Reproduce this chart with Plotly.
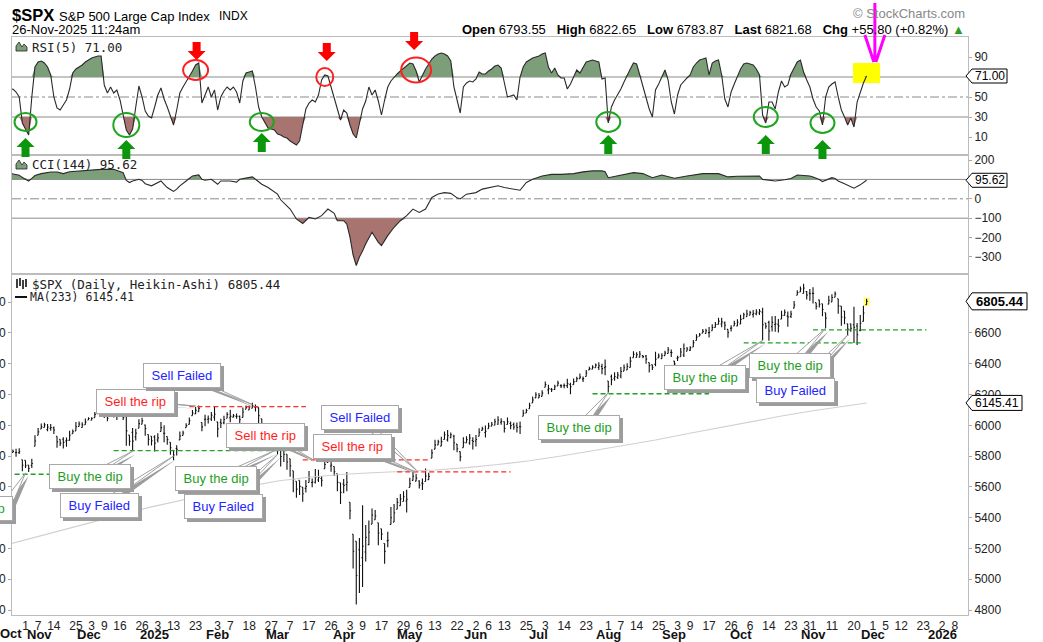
import pandas as pd
import plotly.graph_objects as go

SANS = "Liberation Sans, Arial, sans-serif"
MONO = "DejaVu Sans Mono, monospace"

# ---------------------------------------------------------------- calendar
HOLIDAYS = ["2024-11-28", "2024-12-25", "2025-01-01", "2025-01-09", "2025-01-20",
            "2025-02-17", "2025-04-18", "2025-05-26", "2025-06-19", "2025-07-04",
            "2025-09-01", "2025-11-27", "2025-12-25", "2026-01-01"]
CAL = pd.bdate_range("2024-10-01", "2026-02-27", freq="C", holidays=HOLIDAYS)
CAL_STR = [d.strftime("%Y-%m-%d") for d in CAL]
ORIGIN = CAL_STR.index("2024-11-01")


def xi(date_str):
    """trading-day index of a date (first session on/after it)"""
    return int(CAL.searchsorted(pd.Timestamp(date_str))) - ORIGIN


BAR_FIRST, BAR_LAST = "2024-10-24", "2025-11-26"
MONTHS = ["2024-10", "2024-11", "2024-12", "2025-01", "2025-02", "2025-03", "2025-04",
          "2025-05", "2025-06", "2025-07", "2025-08", "2025-09", "2025-10", "2025-11"]

# ---------------------------------------------------------------- data (per month)
ha_open = [
    [5800, 5804, 5823, 5822, 5822, 5776],
    [5772, 5741, 5740, 5864, 5935, 5976, 5986, 5972, 5980, 5983, 5929, 5909, 5909, 5899, 5902, 5945, 5964, 5992, 5986, 6004],
    [6034, 6033, 6050, 6075, 6079, 6078, 6066, 6060, 6067, 6066, 6062, 6058, 6058, 5936, 5954, 5925, 5981, 6007, 6002, 5940, 5929],
    [5925, 5904, 5960, 5948, 5927, 5890, 5837, 5849, 5905, 5934, 5985, 6006, 6063, 6074, 6088, 6018, 6039, 6039, 6041, 6053],
    [6022, 6020, 6016, 6046, 6049, 6053, 6058, 6058, 6051, 6104, 6099, 6111, 6118, 6115, 6043, 5993, 6005, 5986, 5955],
    [5929, 5866, 5857, 5812, 5783, 5705, 5636, 5642, 5598, 5590, 5628, 5628, 5630, 5645, 5654, 5718, 5758, 5736, 5732, 5685, 5627],
    [5619, 5615, 5500, 5292, 5247, 5191, 5140, 5177, 5225, 5358, 5386, 5367, 5328, 5232, 5249, 5356, 5371, 5455, 5478, 5505, 5508],
    [5597, 5642, 5637, 5638, 5624, 5635, 5647, 5787, 5845, 5872, 5865, 5908, 5905, 5919, 5929, 5878, 5829, 5855, 5886, 5885, 5901],
    [5898, 5929, 5967, 5953, 5978, 5994, 6000, 6007, 6020, 6023, 6005, 6012, 6005, 5997, 5991, 6059, 6080, 6108, 6146, 6178],
    [6177, 6188, 6247, 6230, 6234, 6233, 6256, 6258, 6257, 6258, 6265, 6264, 6285, 6303, 6300, 6317, 6360, 6364, 6375, 6376, 6382, 6375],
    [6288, 6315, 6306, 6312, 6320, 6352, 6359, 6376, 6440, 6441, 6443, 6453, 6450, 6408, 6394, 6396, 6438, 6433, 6453, 6466, 6474],
    [6417, 6436, 6445, 6457, 6481, 6487, 6509, 6551, 6579, 6599, 6596, 6602, 6614, 6636, 6656, 6658, 6665, 6623, 6630, 6645, 6646],
    [6658, 6693, 6705, 6715, 6720, 6724, 6730, 6735, 6665, 6669, 6641, 6655, 6657, 6690, 6714, 6709, 6707, 6761, 6845, 6866, 6856, 6869, 6858],
    [6857, 6797, 6815, 6790, 6731, 6787, 6802, 6832, 6822, 6774, 6743, 6660, 6660, 6653, 6645, 6617, 6675, 6784],
]
ha_high = [
    [5817, 5862, 5843, 5847, 5851, 5776],
    [5772, 5741, 5783, 5936, 5983, 6012, 6017, 6009, 6008, 5993, 5929, 5909, 5923, 5920, 5965, 5973, 6021, 6025, 6020, 6044],
    [6053, 6052, 6087, 6099, 6099, 6088, 6066, 6092, 6080, 6078, 6085, 6058, 6070, 5936, 5982, 5978, 6040, 6049, 6006, 5940, 5929],
    [5935, 5949, 6021, 6000, 5927, 5890, 5837, 5871, 5960, 5965, 6013, 6051, 6100, 6119, 6128, 6018, 6069, 6063, 6086, 6120],
    [6022, 6042, 6062, 6084, 6101, 6074, 6076, 6063, 6116, 6128, 6129, 6147, 6135, 6115, 6043, 5993, 6010, 5994, 5959],
    [5987, 5866, 5860, 5812, 5783, 5705, 5636, 5642, 5598, 5645, 5703, 5655, 5716, 5711, 5670, 5775, 5786, 5784, 5732, 5685, 5627],
    [5651, 5696, 5500, 5292, 5247, 5268, 5481, 5353, 5381, 5460, 5450, 5367, 5328, 5232, 5309, 5469, 5489, 5528, 5554, 5571, 5581],
    [5659, 5700, 5684, 5643, 5654, 5720, 5691, 5845, 5906, 5906, 5925, 5959, 5969, 5954, 5939, 5878, 5829, 5922, 5929, 5944, 5922],
    [5937, 5981, 5990, 5999, 6016, 6021, 6043, 6059, 6045, 6026, 6050, 6024, 6018, 6018, 6025, 6101, 6108, 6146, 6187, 6215],
    [6210, 6227, 6285, 6263, 6242, 6264, 6290, 6266, 6272, 6303, 6277, 6304, 6316, 6336, 6317, 6360, 6381, 6390, 6401, 6410, 6400, 6428],
    [6288, 6330, 6344, 6346, 6379, 6395, 6403, 6446, 6481, 6474, 6482, 6455, 6456, 6408, 6394, 6478, 6466, 6468, 6485, 6508, 6492],
    [6417, 6452, 6502, 6532, 6508, 6513, 6555, 6592, 6600, 6626, 6627, 6638, 6656, 6671, 6698, 6699, 6675, 6623, 6650, 6679, 6689],
    [6718, 6731, 6750, 6744, 6749, 6754, 6755, 6764, 6665, 6680, 6709, 6710, 6690, 6745, 6752, 6740, 6745, 6807, 6877, 6901, 6920, 6872, 6885],
    [6897, 6797, 6816, 6790, 6731, 6841, 6851, 6869, 6822, 6774, 6743, 6660, 6660, 6771, 6665, 6716, 6777, 6823],
]
ha_low = [
    [5784, 5799, 5823, 5795, 5813, 5702],
    [5723, 5696, 5722, 5864, 5935, 5976, 5986, 5961, 5965, 5943, 5854, 5865, 5850, 5860, 5902, 5945, 5964, 5992, 5984, 6004],
    [6034, 6033, 6050, 6075, 6079, 6048, 6027, 6060, 6050, 6035, 6059, 6035, 5867, 5867, 5832, 5902, 5981, 6007, 5932, 5869, 5868],
    [5829, 5888, 5960, 5890, 5874, 5809, 5773, 5803, 5905, 5934, 5985, 6006, 6063, 6074, 6088, 5962, 5994, 6012, 6028, 6030],
    [5923, 5983, 6007, 6046, 6020, 6050, 6042, 6003, 6051, 6104, 6099, 6111, 6090, 6008, 5977, 5909, 5932, 5858, 5837],
    [5810, 5732, 5762, 5711, 5666, 5565, 5529, 5547, 5504, 5563, 5628, 5597, 5622, 5632, 5603, 5718, 5758, 5699, 5670, 5572, 5489],
    [5558, 5571, 5390, 5069, 4835, 4910, 4950, 5115, 5220, 5358, 5386, 5220, 5255, 5101, 5207, 5356, 5371, 5455, 5478, 5505, 5433],
    [5597, 5642, 5637, 5590, 5579, 5635, 5646, 5787, 5845, 5872, 5865, 5908, 5895, 5916, 5838, 5825, 5767, 5855, 5886, 5874, 5843],
    [5862, 5929, 5967, 5921, 5978, 5994, 6000, 6003, 6003, 5953, 6005, 5974, 5971, 5953, 5943, 6059, 6080, 6108, 6146, 6178],
    [6177, 6188, 6247, 6201, 6217, 6229, 6256, 6243, 6241, 6243, 6201, 6264, 6285, 6303, 6281, 6317, 6360, 6364, 6375, 6360, 6331, 6325],
    [6212, 6261, 6289, 6300, 6305, 6352, 6359, 6376, 6440, 6441, 6441, 6436, 6400, 6343, 6360, 6384, 6438, 6433, 6453, 6466, 6443],
    [6360, 6417, 6445, 6443, 6481, 6482, 6509, 6551, 6579, 6599, 6596, 6570, 6614, 6636, 6656, 6637, 6619, 6569, 6610, 6645, 6644],
    [6657, 6693, 6705, 6715, 6700, 6715, 6717, 6551, 6627, 6550, 6610, 6608, 6603, 6690, 6714, 6640, 6697, 6761, 6845, 6866, 6856, 6818, 6809],
    [6791, 6752, 6765, 6708, 6631, 6787, 6802, 6832, 6725, 6646, 6656, 6580, 6607, 6534, 6521, 6611, 6675, 6784],
]
ha_close = [
    [5807, 5824, 5830, 5823, 5828, 5740],
    [5737, 5719, 5752, 5898, 5957, 5990, 6003, 5989, 5986, 5969, 5892, 5884, 5889, 5903, 5935, 5958, 5991, 6008, 6004, 6021],
    [6044, 6044, 6071, 6085, 6087, 6068, 6046, 6074, 6064, 6058, 6070, 6049, 5964, 5896, 5897, 5949, 6011, 6029, 5979, 5909, 5900],
    [5884, 5918, 5985, 5948, 5907, 5854, 5807, 5844, 5930, 5950, 5998, 6030, 6080, 6097, 6110, 5990, 6039, 6043, 6065, 6072],
    [5977, 6013, 6038, 6071, 6058, 6062, 6059, 6036, 6086, 6116, 6120, 6130, 6119, 6063, 6008, 5960, 5967, 5924, 5902],
    [5904, 5797, 5812, 5762, 5736, 5648, 5585, 5603, 5555, 5603, 5659, 5631, 5661, 5663, 5643, 5745, 5774, 5742, 5698, 5629, 5564],
    [5610, 5630, 5445, 5182, 5024, 5089, 5214, 5272, 5305, 5417, 5411, 5300, 5293, 5181, 5253, 5399, 5432, 5499, 5522, 5536, 5520],
    [5621, 5669, 5657, 5611, 5620, 5671, 5668, 5821, 5873, 5892, 5894, 5939, 5933, 5939, 5887, 5847, 5795, 5889, 5907, 5917, 5895],
    [5908, 5955, 5977, 5961, 5995, 6007, 6023, 6034, 6026, 5980, 6023, 5998, 5989, 5986, 5991, 6079, 6096, 6127, 6164, 6198],
    [6193, 6209, 6265, 6238, 6231, 6250, 6274, 6256, 6259, 6271, 6250, 6282, 6303, 6313, 6303, 6340, 6368, 6378, 6391, 6387, 6368, 6380],
    [6252, 6296, 6317, 6327, 6350, 6374, 6382, 6417, 6461, 6459, 6463, 6446, 6430, 6389, 6377, 6429, 6450, 6452, 6469, 6491, 6472],
    [6399, 6440, 6476, 6497, 6496, 6503, 6537, 6573, 6588, 6610, 6614, 6605, 6635, 6655, 6677, 6672, 6650, 6601, 6632, 6661, 6670],
    [6688, 6718, 6723, 6732, 6727, 6736, 6740, 6653, 6644, 6613, 6669, 6659, 6646, 6715, 6734, 6704, 6722, 6782, 6862, 6886, 6891, 6846, 6855],
    [6856, 6773, 6786, 6752, 6696, 6812, 6830, 6854, 6776, 6704, 6699, 6626, 6631, 6636, 6588, 6663, 6730, 6805.44],
]
rsi5 = [
    [56, 57, 58, 55, 50, 24],
    [18, 12, 50, 80, 85, 86, 84, 80, 72, 50, 39, 37, 42, 47, 58, 74, 78, 80, 82, 85],
    [87, 89, 90, 91, 91, 62, 54, 60, 54, 57, 47, 32, 17, 12, 18, 40, 61, 50, 36, 31, 29],
    [40, 52, 59, 48, 40, 30, 22, 37, 54, 60, 65, 70, 76, 82, 84, 44, 52, 60, 50, 57],
    [37, 50, 56, 60, 57, 60, 55, 44, 66, 74, 75, 76, 60, 40, 30, 24, 19, 18, 17],
    [13, 12, 10, 9, 6, 4, 2, 6, 22, 38, 44, 47, 45, 52, 67, 72, 71, 60, 48, 36, 27],
    [37, 34, 22, 13, 9, 25, 38, 46, 60, 52, 57, 46, 32, 47, 60, 66, 70, 73, 76, 79, 82],
    [84, 83, 76, 65, 72, 78, 83, 88, 91, 93, 94, 93, 91, 86, 60, 46, 34, 60, 64, 66, 65],
    [68, 75, 73, 73, 76, 78, 81, 82, 79, 64, 50, 51, 52, 47, 70, 80, 85, 87, 89, 90],
    [91, 93, 94, 80, 74, 79, 72, 69, 69, 58, 63, 70, 77, 74, 80, 85, 86, 87, 86, 85, 68, 69],
    [24, 40, 47, 52, 58, 65, 72, 78, 84, 83, 72, 60, 48, 38, 30, 57, 63, 70, 77, 67, 45],
    [33, 52, 62, 66, 69, 72, 80, 84, 87, 88, 89, 72, 84, 86, 87, 72, 48, 40, 55, 63, 70],
    [78, 83, 84, 83, 82, 78, 72, 32, 24, 45, 45, 38, 55, 66, 60, 62, 73, 79, 85, 87, 75, 67, 60],
    [48, 40, 36, 22, 50, 60, 63, 65, 50, 37, 30, 22, 29, 20, 45, 55, 64, 71.00],
]

cci_dates = ["2024-10-24", "2024-10-28", "2024-10-30", "2024-10-31", "2024-11-04", "2024-11-05", "2024-11-06",
             "2024-11-08", "2024-11-13", "2024-11-15", "2024-11-19", "2024-11-21", "2024-11-27", "2024-12-03",
             "2024-12-06", "2024-12-12", "2024-12-16", "2024-12-17", "2024-12-18", "2024-12-19", "2024-12-20",
             "2024-12-24", "2024-12-26", "2024-12-27", "2024-12-31", "2025-01-02", "2025-01-06", "2025-01-07",
             "2025-01-08", "2025-01-10", "2025-01-13", "2025-01-14", "2025-01-15", "2025-01-17", "2025-01-22",
             "2025-01-24", "2025-01-27", "2025-01-28", "2025-01-30", "2025-02-03", "2025-02-04", "2025-02-07",
             "2025-02-11", "2025-02-12", "2025-02-14", "2025-02-19", "2025-02-20", "2025-02-24", "2025-02-26",
             "2025-03-03", "2025-03-04", "2025-03-07", "2025-03-11", "2025-03-13", "2025-03-17", "2025-03-19",
             "2025-03-21", "2025-03-25", "2025-03-27", "2025-03-28", "2025-04-01", "2025-04-02", "2025-04-03",
             "2025-04-04", "2025-04-07", "2025-04-08", "2025-04-09", "2025-04-10", "2025-04-14", "2025-04-16",
             "2025-04-17", "2025-04-22", "2025-04-24", "2025-04-28", "2025-04-30", "2025-05-02", "2025-05-06",
             "2025-05-08", "2025-05-12", "2025-05-14", "2025-05-16", "2025-05-20", "2025-05-22", "2025-05-23",
             "2025-05-28", "2025-06-02", "2025-06-04", "2025-06-06", "2025-06-11", "2025-06-13", "2025-06-18",
             "2025-06-23", "2025-06-25", "2025-06-27", "2025-07-02", "2025-07-08", "2025-07-11", "2025-07-17",
             "2025-07-22", "2025-07-25", "2025-07-30", "2025-07-31", "2025-08-01", "2025-08-06", "2025-08-08",
             "2025-08-13", "2025-08-18", "2025-08-21", "2025-08-26", "2025-09-02", "2025-09-08", "2025-09-15",
             "2025-09-22", "2025-09-25", "2025-09-30", "2025-10-03", "2025-10-09", "2025-10-10", "2025-10-14",
             "2025-10-16", "2025-10-21", "2025-10-23", "2025-10-27", "2025-10-29", "2025-10-31", "2025-11-03",
             "2025-11-05", "2025-11-06", "2025-11-07", "2025-11-11", "2025-11-12", "2025-11-13", "2025-11-17",
             "2025-11-19", "2025-11-20", "2025-11-24", "2025-11-25", "2025-11-26"]
cci_vals = [135, 130, 122, 110, 92, 105, 120,
            130, 138, 138, 130, 140, 144, 150,
            152, 152, 142, 135, 95, 84, 92,
            101, 95, 78, 67, 75, 92, 75,
            58, 48, 38, 50, 67, 92, 118,
            123, 101, 96, 101, 75, 92, 92,
            86, 101, 108, 113, 101, 75, 58,
            24, -5, -53, -104, -127, -96, -104,
            -87, -53, -75, -113, -113, -130, -198,
            -290, -344, -300, -270, -232, -173, -225,
            -241, -190, -147, -113, -87, -53, -70,
            -53, 7, 25, 32, 28, 5, -1,
            24, 32, 50, 58, 67, 58, 50,
            44, 84, 101, 118, 126, 126, 130,
            139, 144, 144, 140, 109, 118, 123,
            135, 130, 109, 123, 106, 118, 130,
            130, 113, 116, 118, 118, 100, 95,
            92, 98, 105, 123, 121, 118, 112,
            100, 89, 95, 109, 105, 92, 78,
            65, 55, 72, 85, 95.62]

ma_dates = ["2024-10-24", "2024-10-28", "2024-11-15", "2024-12-02", "2024-12-16", "2024-12-31", "2025-01-16",
            "2025-01-31", "2025-02-14", "2025-03-03", "2025-03-17", "2025-03-31", "2025-04-14", "2025-04-29",
            "2025-05-13", "2025-05-28", "2025-06-11", "2025-06-26", "2025-07-11", "2025-07-25", "2025-08-08",
            "2025-08-22", "2025-09-08", "2025-09-22", "2025-10-06", "2025-10-20", "2025-11-03", "2025-11-17",
            "2025-11-26"]
ma233 = [5224, 5235, 5310, 5365, 5418, 5470, 5515,
         5560, 5600, 5638, 5662, 5680, 5692, 5700,
         5710, 5725, 5745, 5770, 5800, 5835, 5870,
         5905, 5945, 5985, 6025, 6060, 6095, 6125,
         6145.41]

tick_dates = ["2024-11-01", "2024-11-07", "2024-11-14", "2024-11-25", "2024-12-03", "2024-12-09", "2024-12-16",
              "2024-12-26", "2025-01-03", "2025-01-13", "2025-01-23", "2025-02-03", "2025-02-07", "2025-02-18",
              "2025-02-27", "2025-03-07", "2025-03-17", "2025-03-26", "2025-04-03", "2025-04-09", "2025-04-17",
              "2025-04-29", "2025-05-06", "2025-05-13", "2025-05-22", "2025-06-02", "2025-06-06", "2025-06-13",
              "2025-06-25", "2025-07-03", "2025-07-14", "2025-07-23", "2025-08-01", "2025-08-07", "2025-08-14",
              "2025-08-25", "2025-09-03", "2025-09-09", "2025-09-17", "2025-09-26", "2025-10-06", "2025-10-14",
              "2025-10-23", "2025-10-31", "2025-11-11", "2025-11-20", "2025-12-01", "2025-12-05", "2025-12-12",
              "2025-12-23", "2026-01-02", "2026-01-08"]
month_labels = ["Nov", "Dec", "2025", "Feb", "Mar", "Apr", "May", "Jun", "Jul", "Aug", "Sep", "Oct", "Nov", "Dec", "2026"]
month_dates = ["2024-11-01", "2024-12-02", "2025-01-02", "2025-02-03", "2025-03-03", "2025-04-01", "2025-05-01",
               "2025-06-02", "2025-07-01", "2025-08-01", "2025-09-02", "2025-10-01", "2025-11-03", "2025-12-01",
               "2026-01-02"]

# right-axis tick values (those hidden under the value tags are left out)
rsi_ticks = [10, 30, 50, 90]
cci_ticks = [-300, -200, -100, 0, 200]
price_ticks_right = [4800, 5000, 5200, 5400, 5600, 5800, 6000, 6200, 6400, 6600]
price_ticks_left = [4800, 5000, 5200, 5400, 5600, 5800, 6000, 6200, 6400, 6600, 6800]

# support / resistance lines drawn on the chart: (start, end, level, kind)
level_lines = [("2024-10-24", "2024-12-20", 5682, "buy"), ("2024-12-12", "2025-03-14", 5835, "buy"),
               ("2025-01-21", "2025-03-14", 6121, "sell"), ("2025-03-13", "2025-05-09", 5776, "sell"),
               ("2025-04-25", "2025-06-17", 5697, "sell"), ("2025-07-25", "2025-09-17", 6205, "buy"),
               ("2025-10-02", "2025-11-25", 6536, "buy"), ("2025-11-03", "2025-12-24", 6620, "buy")]

# callouts: (text, kind, tip date, tip price)
callouts = [("Buy the dip", "buy", "2024-11-01", 5690), ("Buy the dip", "buy", "2024-12-20", 5832),
            ("Buy Failed", "fail", "2025-01-13", 5800), ("Sell the rip", "sell", "2025-01-23", 6125),
            ("Sell Failed", "fail", "2025-02-19", 6135), ("Buy the dip", "buy", "2025-02-28", 5835),
            ("Buy Failed", "fail", "2025-03-03", 5810), ("Sell the rip", "sell", "2025-03-18", 5780),
            ("Sell the rip", "sell", "2025-05-05", 5696), ("Sell Failed", "fail", "2025-05-05", 5710),
            ("Buy the dip", "buy", "2025-08-01", 6212), ("Buy the dip", "buy", "2025-10-10", 6551),
            ("Buy the dip", "buy", "2025-11-07", 6631), ("Buy Failed", "fail", "2025-11-18", 6586)]
# box placement of the callouts (pixels from tip, anchor of the box, wedge base offset from box anchor)
callout_offsets = [(-13, 35, "right", -8), (-43, 25, "center", 30), (-74, 49, "center", 32),
                   (-60, -5, "center", 30), (-70, -29, "center", 30), (-58, 28, "center", 32),
                   (-54, 52, "center", 34), (-47, -24, "center", 30), (-64, -26, "center", 30),
                   (-56, -52, "center", 32), (-29, 35, "center", 30), (-58, 37, "center", 30),
                   (-36, 37, "center", 28), (-52, 55, "center", 32)]

# hand-drawn RSI marks: (date, RSI at circle centre)
rsi_buy_marks = [("2024-11-01", 25), ("2024-12-18", 22), ("2025-02-24", 25),
                 ("2025-08-01", 25), ("2025-10-13", 30), ("2025-11-06", 24)]
rsi_sell_marks = [("2025-01-23", 77), ("2025-03-24", 70), ("2025-05-05", 77)]

# ---------------------------------------------------------------- flatten & check
bar_days = [[d for d in CAL_STR if d.startswith(m) and BAR_FIRST <= d <= BAR_LAST] for m in MONTHS]


def flatten(name, nested):
    out = []
    for m, days, vals in zip(MONTHS, bar_days, nested):
        if len(days) != len(vals):
            raise ValueError(f"{name} {m}: {len(vals)} values for {len(days)} sessions")
        out.extend(vals)
    return out


o_ = flatten("open", ha_open)
h_ = flatten("high", ha_high)
l_ = flatten("low", ha_low)
c_ = flatten("close", ha_close)
r_ = flatten("rsi", rsi5)
bar_x = [xi(d) for days in bar_days for d in days]
cci_x = [xi(d) for d in cci_dates]
ma_x = [xi(d) for d in ma_dates]

# ---------------------------------------------------------------- geometry
W, H = 1043, 642
ML, MR, MT, MB = 12, 75, 37, 27


def paper_y(py):
    return (H - MB - py) / (H - MT - MB)


def paper_x(px):
    return (px - ML) / (W - ML - MR)


RSI_DOM = [paper_y(155), 1.0]
CCI_DOM = [paper_y(274), paper_y(155)]
MAIN_DOM = [0.0, paper_y(274)]
RSI_RANGE = [-8, 110]
CCI_RANGE = [-388, 226]
PRICE_RANGE = [4767.5, 6983]
X_RANGE = [-4.29, 299.2]


def rsi_paper(v):
    return RSI_DOM[0] + (v - RSI_RANGE[0]) / (RSI_RANGE[1] - RSI_RANGE[0]) * (RSI_DOM[1] - RSI_DOM[0])


GREEN_FILL = "#7c9f7a"
BROWN_FILL = "#a87470"
LINE = "#bcbcbc"
SHADOW = "#9c9c9c"
KIND_COLOR = {"buy": "#1e9e1e", "sell": "#ff1e1e", "fail": "#2424ff"}

fig = go.Figure()

# main panel
fig.add_trace(go.Ohlc(x=bar_x, open=o_, high=h_, low=l_, close=c_, xaxis="x", yaxis="y",
                      increasing=dict(line=dict(color="#111111", width=1.1)),
                      decreasing=dict(line=dict(color="#111111", width=1.1)),
                      tickwidth=0.35, hoverinfo="skip", showlegend=False))
fig.add_trace(go.Scatter(x=ma_x, y=ma233, xaxis="x", yaxis="y4", mode="lines",
                         line=dict(color="#d0d0d0", width=1.1), hoverinfo="skip", showlegend=False))

# CCI panel
fig.add_trace(go.Scatter(x=cci_x, y=[100] * len(cci_x), xaxis="x2", yaxis="y2", mode="lines",
                         line=dict(width=0), hoverinfo="skip", showlegend=False))
fig.add_trace(go.Scatter(x=cci_x, y=[max(v, 100) for v in cci_vals], xaxis="x2", yaxis="y2", mode="lines",
                         fill="tonexty", fillcolor=GREEN_FILL, line=dict(width=0), hoverinfo="skip", showlegend=False))
fig.add_trace(go.Scatter(x=cci_x, y=[-100] * len(cci_x), xaxis="x2", yaxis="y2", mode="lines",
                         line=dict(width=0), hoverinfo="skip", showlegend=False))
fig.add_trace(go.Scatter(x=cci_x, y=[min(v, -100) for v in cci_vals], xaxis="x2", yaxis="y2", mode="lines",
                         fill="tonexty", fillcolor=BROWN_FILL, line=dict(width=0), hoverinfo="skip", showlegend=False))
fig.add_trace(go.Scatter(x=cci_x, y=cci_vals, xaxis="x2", yaxis="y2", mode="lines",
                         line=dict(color="#2a2a2a", width=1.1), hoverinfo="skip", showlegend=False))

# RSI panel
fig.add_trace(go.Scatter(x=bar_x, y=[70] * len(bar_x), xaxis="x3", yaxis="y3", mode="lines",
                         line=dict(width=0), hoverinfo="skip", showlegend=False))
fig.add_trace(go.Scatter(x=bar_x, y=[max(v, 70) for v in r_], xaxis="x3", yaxis="y3", mode="lines",
                         fill="tonexty", fillcolor=GREEN_FILL, line=dict(width=0), hoverinfo="skip", showlegend=False))
fig.add_trace(go.Scatter(x=bar_x, y=[30] * len(bar_x), xaxis="x3", yaxis="y3", mode="lines",
                         line=dict(width=0), hoverinfo="skip", showlegend=False))
fig.add_trace(go.Scatter(x=bar_x, y=[min(v, 30) for v in r_], xaxis="x3", yaxis="y3", mode="lines",
                         fill="tonexty", fillcolor=BROWN_FILL, line=dict(width=0), hoverinfo="skip", showlegend=False))
fig.add_trace(go.Scatter(x=bar_x, y=r_, xaxis="x3", yaxis="y3", mode="lines",
                         line=dict(color="#2a2a2a", width=1.1), hoverinfo="skip", showlegend=False))

# ---------------------------------------------------------------- shapes
shapes = []
for lvl, dash in [(70, "solid"), (50, "dashdot"), (30, "solid")]:
    shapes.append(dict(type="line", xref="x3 domain", x0=0, x1=1, yref="y3", y0=lvl, y1=lvl,
                       line=dict(color="#8a8a8a", width=1, dash=dash), layer="below"))
for lvl, dash in [(100, "solid"), (0, "dashdot"), (-100, "solid")]:
    shapes.append(dict(type="line", xref="x2 domain", x0=0, x1=1, yref="y2", y0=lvl, y1=lvl,
                       line=dict(color="#8a8a8a", width=1, dash=dash), layer="below"))

for d0, d1, lvl, kind in level_lines:
    shapes.append(dict(type="line", xref="x", yref="y", x0=xi(d0), x1=xi(d1), y0=lvl, y1=lvl,
                       line=dict(color="#ff2a2a" if kind == "sell" else "#22a022", width=1.3, dash="5px,3px")))

# callout pointer wedges (shadow first, then white wedge); boxes are annotations drawn on top
for (text, kind, d, price), (ax, ay, anchor, base) in zip(callouts, callout_offsets):
    bx = ax if anchor == "center" else ax + base
    by = -ay
    sx, sy = 3, -3
    shapes.append(dict(type="path", xref="x", yref="y", xsizemode="pixel", ysizemode="pixel",
                       xanchor=xi(d), yanchor=price,
                       path=f"M{sx},{sy} L{bx - 6 + sx},{by + sy} L{bx + 6 + sx},{by + sy} Z",
                       fillcolor=SHADOW, line=dict(width=0)))
    shapes.append(dict(type="path", xref="x", yref="y", xsizemode="pixel", ysizemode="pixel",
                       xanchor=xi(d), yanchor=price,
                       path=f"M0,0 L{bx - 6},{by} L{bx + 6},{by} Z",
                       fillcolor="white", line=dict(color="#a0a0a0", width=1)))

# last-bar highlights
shapes.append(dict(type="rect", xref="x", yref="y", xsizemode="pixel", xanchor=xi(BAR_LAST), x0=-3, x1=3,
                   y0=6775, y1=6830, fillcolor="#ffff70", line=dict(width=0), layer="below"))
shapes.append(dict(type="rect", xref="x3", yref="y3", xsizemode="pixel", xanchor=xi(BAR_LAST), x0=-13.5, x1=13.5,
                   y0=64, y1=84, fillcolor="#ffff00", line=dict(width=0), layer="below"))

# RSI circles + block arrows
buy_arrow_tips = [9, 7, 14, 12, 12, 7]
buy_rx = [11, 13, 12, 12, 12, 12]
buy_ry = [9, 12, 9, 10, 10, 10]
for (d, v), tip, rx, ry in zip(rsi_buy_marks, buy_arrow_tips, buy_rx, buy_ry):
    shapes.append(dict(type="circle", xref="x3", yref="y3", xsizemode="pixel", xanchor=xi(d), x0=-rx, x1=rx,
                       y0=v - ry, y1=v + ry, line=dict(color="#1fa51f", width=2)))
    shapes.append(dict(type="path", xref="x3", yref="paper", xsizemode="pixel", ysizemode="pixel",
                       xanchor=xi(d), yanchor=rsi_paper(tip),
                       path="M0,0 L9,-9 L4,-9 L4,-19 L-4,-19 L-4,-9 L-9,-9 Z",
                       fillcolor="#0c960c", line=dict(width=0)))
sell_arrow_tips = [87, 86, 97]
sell_rx = [12.5, 8.5, 15]
sell_ry = [10, 9, 12.5]
sell_dx = [1, 2, -2]
for (d, v), tip, rx, ry, dx in zip(rsi_sell_marks, sell_arrow_tips, sell_rx, sell_ry, sell_dx):
    shapes.append(dict(type="circle", xref="x3", yref="y3", xsizemode="pixel", xanchor=xi(d), x0=-rx, x1=rx,
                       y0=v - ry, y1=v + ry, line=dict(color="#ff2020", width=2)))
    shapes.append(dict(type="path", xref="x3", yref="paper", xsizemode="pixel", ysizemode="pixel",
                       xanchor=xi(d), yanchor=rsi_paper(tip),
                       path=f"M{dx},0 L{dx + 9},9 L{dx + 4},9 L{dx + 4},18 L{dx - 4},18 L{dx - 4},9 L{dx - 9},9 Z",
                       fillcolor="#ff0000", line=dict(width=0)))

# magenta hand-drawn arrow
shapes.append(dict(type="path", xref="x3", yref="paper", xsizemode="pixel", ysizemode="pixel",
                   xanchor=xi("2025-12-01"), yanchor=paper_y(62),
                   path="M2,59 L2,0 M-8,27 L1,0 M12,27 L3,0",
                   line=dict(color="#ff00ff", width=3)))

# right-axis value tags
tags = [("y3", 71.00, "71.00", 39, 7, False), ("y2", 95.62, "95.62", 39, 7, False),
        ("y", 6805.44, "6805.44", 59, 8.5, True), ("y", 6145.41, "6145.41", 54, 7.5, False)]
for yref, val, label, w, hh, bold in tags:
    shapes.append(dict(type="path", xref="paper", yref=yref, xsizemode="pixel", ysizemode="pixel",
                       xanchor=1.0, yanchor=val,
                       path=f"M-2,0 L4,{hh} L{w},{hh} L{w},{-hh} L4,{-hh} Z",
                       fillcolor="white", line=dict(color="#000", width=1)))

# legend icons
shapes.append(dict(type="path", xref="paper", yref="paper", xsizemode="pixel", ysizemode="pixel",
                   xanchor=0, yanchor=1, path="M4,-14 L4,-9 L7,-5 L10,-10 L12,-7 L15,-10 L15,-14 Z",
                   fillcolor=GREEN_FILL, line=dict(color="#222", width=0.8)))
shapes.append(dict(type="path", xref="paper", yref="paper", xsizemode="pixel", ysizemode="pixel",
                   xanchor=0, yanchor=paper_y(155), path="M4,-14 L4,-9 L7,-5 L10,-10 L12,-7 L15,-10 L15,-14 Z",
                   fillcolor=GREEN_FILL, line=dict(color="#222", width=0.8)))
shapes.append(dict(type="path", xref="paper", yref="paper", xsizemode="pixel", ysizemode="pixel",
                   xanchor=0, yanchor=paper_y(274),
                   path="M5,-5 L5,-14 M8,-4 L8,-12 M11,-6 L11,-15 M14,-5 L14,-13",
                   line=dict(color="#111", width=1.6)))
shapes.append(dict(type="line", xref="paper", yref="paper", x0=paper_x(15), x1=paper_x(27),
                   y0=paper_y(297), y1=paper_y(297), line=dict(color="#111", width=2)))

# ---------------------------------------------------------------- annotations
ann = []


def ptext(px, pyy, text, size, color="#000", family=SANS, xanchor="left"):
    ann.append(dict(xref="paper", yref="paper", x=paper_x(px), y=paper_y(pyy), text=text, showarrow=False,
                    xanchor=xanchor, yanchor="middle", font=dict(size=size, color=color, family=family)))


ptext(10, 15, "<b>$SPX</b>", 16.5)
ptext(57, 16, "S&amp;P 500 Large Cap Index", 13)
ptext(217, 16, "INDX", 12)
ptext(10, 30, "26-Nov-2025 11:24am", 13)
SP3 = "\u00a0\u00a0\u00a0"
ptext(967, 30, f"<b>Open</b> 6793.55{SP3}<b>High</b> 6822.65{SP3}<b>Low</b> 6783.87{SP3}"
               f"<b>Last</b> 6821.68{SP3}<b>Chg</b> +55.80 (+0.82%) <span style='color:#2a9d2a'>▲</span>",
      13, xanchor="right")
ptext(967, 14, "© StockCharts.com", 13, color="#888888", xanchor="right")

ptext(30, 47, "RSI(5) 71.00", 12.5, color="#222", family=MONO)
ptext(30, 165, "CCI(144) 95.62", 12.5, color="#222", family=MONO)
ptext(30, 284, "$SPX (Daily, Heikin-Ashi) 6805.44", 12.5, color="#222", family=MONO)
ptext(28, 297, "MA(233) 6145.41", 11.5, color="#222", family=MONO)

for yref, val, label, w, hh, bold in tags:
    ann.append(dict(xref="paper", yref=yref, x=1.0, y=val, xshift=(4 + w) / 2, text=f"<b>{label}</b>" if bold else label,
                    showarrow=False, xanchor="center", yanchor="middle",
                    font=dict(size=13 if bold else 12, color="#000", family=SANS)))

for (text, kind, d, price), (ax, ay, anchor, base) in zip(callouts, callout_offsets):
    label = "\u00a0" + text + "\u00a0"
    ann.append(dict(xref="x", yref="y", x=xi(d), y=price, ax=ax, ay=ay, text=label, showarrow=True,
                    xanchor=anchor, arrowcolor="rgba(0,0,0,0)", arrowwidth=0.1, xshift=3, yshift=-3,
                    bgcolor=SHADOW, bordercolor=SHADOW, borderwidth=1, borderpad=4,
                    font=dict(size=13, color=SHADOW, family=SANS)))
    ann.append(dict(xref="x", yref="y", x=xi(d), y=price, ax=ax, ay=ay, text=label, showarrow=True,
                    xanchor=anchor, arrowcolor="rgba(0,0,0,0)", arrowwidth=0.1,
                    bgcolor="white", bordercolor="#a8a8a8", borderwidth=1, borderpad=4,
                    font=dict(size=13, color=KIND_COLOR[kind], family=SANS)))

ann.append(dict(xref="paper", yref="paper", x=paper_x(11), y=paper_y(633), text="<b>Oct</b>", showarrow=False,
                xanchor="center", yanchor="middle", font=dict(size=13, color="#111", family=SANS)))
for i, (lab, d) in enumerate(zip(month_labels, month_dates)):
    ann.append(dict(xref="x", yref="paper", x=xi(d), y=paper_y(634), xshift=14 if i == 0 else 0,
                    text=f"<b>{lab}</b>", showarrow=False, xanchor="center", yanchor="middle",
                    font=dict(size=13, color="#111", family=SANS)))

# ---------------------------------------------------------------- axes
tickfont = dict(size=12, color="#222", family=SANS)
common_x = dict(range=X_RANGE, showgrid=False, zeroline=False, showline=True, mirror=True,
                linecolor=LINE, linewidth=1, ticks="")
common_y = dict(showgrid=False, zeroline=False, showline=True, mirror=True, linecolor=LINE, linewidth=1,
                side="right", ticks="outside", ticklen=3, tickcolor="#aaaaaa", tickfont=tickfont)

fig.update_layout(
    width=W, height=H, margin=dict(l=ML, r=MR, t=MT, b=MB, pad=0, autoexpand=False),
    paper_bgcolor="white", plot_bgcolor="white", showlegend=False, hovermode=False,
    font=dict(family=SANS, size=12, color="#222"),
    xaxis=dict(**common_x, domain=[0, 1], anchor="y", tickmode="array",
               tickvals=[xi(d) for d in tick_dates], ticktext=[str(int(d[-2:])) for d in tick_dates],
               tickfont=tickfont, rangeslider=dict(visible=False)),
    xaxis2=dict(**common_x, domain=[0, 1], anchor="y2", matches="x", showticklabels=False),
    xaxis3=dict(**common_x, domain=[0, 1], anchor="y3", matches="x", showticklabels=False),
    yaxis=dict(**common_y, domain=MAIN_DOM, anchor="x", range=PRICE_RANGE, tickvals=price_ticks_right),
    yaxis4=dict(overlaying="y", side="left", anchor="x", range=PRICE_RANGE, tickvals=price_ticks_left,
                showgrid=False, zeroline=False, showline=False, ticks="outside", ticklen=3, tickcolor="#aaaaaa",
                tickfont=tickfont),
    yaxis2=dict(**common_y, domain=CCI_DOM, anchor="x2", range=CCI_RANGE, tickvals=cci_ticks),
    yaxis3=dict(**common_y, domain=RSI_DOM, anchor="x3", range=RSI_RANGE, tickvals=rsi_ticks),
    shapes=shapes, annotations=ann,
)

fig.write_html("out.html", config={"displayModeBar": False},
               post_script="document.body.style.margin='0';document.body.style.overflow='hidden';")
